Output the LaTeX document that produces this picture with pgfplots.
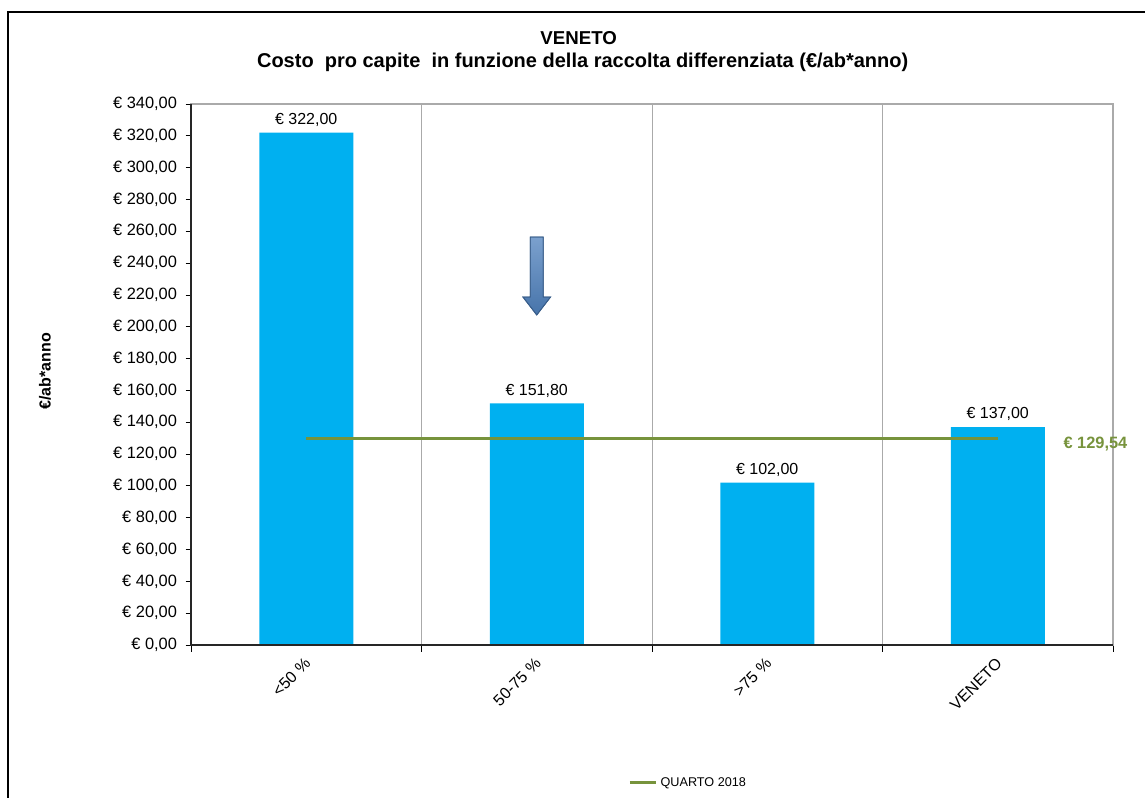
\documentclass[border=0pt]{standalone}
\usepackage{pgfplots}
\pgfplotsset{compat=1.18}
\usepackage{fontspec}
\setmainfont{Liberation Sans}
\definecolor{barblue}{RGB}{0,176,240}
\definecolor{qgreen}{RGB}{119,147,60}
\definecolor{arrfill}{RGB}{79,129,189}
\definecolor{arrdraw}{RGB}{56,93,138}
\definecolor{gridgray}{RGB}{170,170,170}
\begin{document}
\begin{tikzpicture}
\useasboundingbox (0,0) rectangle (858.75pt,598.5pt);
\draw[black, line width=0.9pt] (6pt,0) -- (6pt,589.5pt) -- (858.75pt,589.5pt);
\node[font=\bfseries\fontsize{14}{16}\selectfont] at (434pt,570pt) {VENETO};
\node[font=\bfseries\fontsize{15}{17}\selectfont] at (437pt,552pt) {Costo\ \ pro capite\ \ in funzione della raccolta differenziata (€/ab*anno)};
\node[font=\bfseries\fontsize{12}{14}\selectfont, rotate=90] at (33.75pt,320pt) {€/ab*anno};
\begin{axis}[
  at={(143.25pt,114.75pt)}, anchor=south west,
  scale only axis, width=691.5pt, height=405.75pt,
  xmin=-0.5, xmax=3.5, ymin=0, ymax=340,
  xtick={0,1,2,3},
  xticklabels={{<50 \%},{50-75 \%},{>75 \%},{VENETO}},
  major x tick style={draw=none},
  minor xtick={-0.5,0.5,1.5,2.5,3.5},
  xminorgrids,
  minor x grid style={gridgray, line width=0.6pt},
  minor tick length=5pt,
  ytick={0,20,...,340},
  major tick length=4pt,
  tick align=outside,
  tick style={black, line width=0.6pt},
  xtick pos=bottom, ytick pos=left,
  axis line style={gridgray, line width=0.9pt},
  /pgf/number format/assume math mode=true,
  yticklabel style={font=\fontsize{12.3}{14}\selectfont, xshift=-3pt, /pgf/number format/.cd, fixed, fixed zerofill, precision=2, use comma, 1000 sep={}},
  yticklabel={€ \pgfmathprintnumber{\tick}},
  xticklabel style={font=\fontsize{12}{14}\selectfont, xshift=-2pt, rotate=45, anchor=north east},
  legend style={at={(rel axis cs:0.474,-0.255)}, anchor=west, draw=none, font=\fontsize{9.5}{11}\selectfont, inner sep=0pt},
  legend cell align=left,
  legend image code/.code={\draw[qgreen, line width=2.2pt] (0pt,0pt) -- (20pt,0pt);},
  clip=false,
]
\addplot[ybar, bar width=70.5pt, fill=barblue, draw=none, forget plot,
  nodes near coords={€ \pgfmathprintnumber[fixed, fixed zerofill, precision=2, use comma, 1000 sep={}]{\pgfplotspointmeta}},
  nodes near coords style={font=\fontsize{12}{14}\selectfont, text=black, yshift=1pt},
  point meta=y]
  coordinates {(0,322) (1,151.8) (2,102) (3,137)};
\addplot[qgreen, line width=2.2pt, mark=none] coordinates {(0,129.54) (3,129.54)};
\addlegendentry{QUARTO 2018}
\node[font=\bfseries\fontsize{12.3}{14}\selectfont, text=qgreen, anchor=west] at (axis cs:3.265,126) {€ 129,54};
\shade[top color=arrfill!75!white, bottom color=arrfill!90!black, draw=arrdraw, line width=0.6pt]
  (axis cs:0.972,256.4) -- (axis cs:1.028,256.4) -- (axis cs:1.028,218.7) -- (axis cs:1.06,218.7)
  -- (axis cs:1.0,207.4) -- (axis cs:0.94,218.7) -- (axis cs:0.972,218.7) -- cycle;
\draw[arrdraw, line width=0.6pt]
  (axis cs:0.972,256.4) -- (axis cs:1.028,256.4) -- (axis cs:1.028,218.7) -- (axis cs:1.06,218.7)
  -- (axis cs:1.0,207.4) -- (axis cs:0.94,218.7) -- (axis cs:0.972,218.7) -- cycle;
\draw[black!85, line width=0.9pt] (rel axis cs:0,1) -- (rel axis cs:0,0) -- (rel axis cs:1,0);
\end{axis}
\end{tikzpicture}
\end{document}
